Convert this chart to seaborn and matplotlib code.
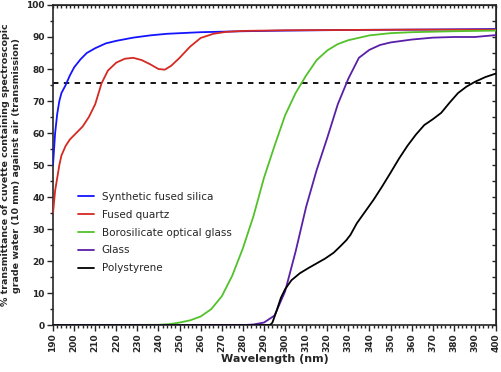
import matplotlib
matplotlib.use("Agg")
import matplotlib.pyplot as plt
import seaborn as sns
import pandas as pd
from matplotlib.ticker import MultipleLocator, NullFormatter

# transmittance curves
silica_wl = [190, 191, 192, 193, 194, 196, 198, 200, 203, 206, 210, 215, 220, 228, 236, 244, 260, 280, 300, 330, 360, 400]
silica_t = [50, 60, 66, 70, 72.5, 75, 78, 80.5, 83, 85, 86.5, 88, 88.8, 89.8, 90.5, 91, 91.5, 91.8, 92, 92.2, 92.3, 92.5]

quartz_wl = [190, 191, 192, 193, 194, 196, 198, 201, 204, 207, 210, 213, 216, 220, 224, 228, 232, 236, 240, 243, 246, 250, 255, 260, 266, 272, 280, 290, 300, 330, 360, 400]
quartz_t = [35, 42, 46, 50, 53, 56, 58, 60, 62, 65, 69, 75.5, 79.5, 82, 83.2, 83.5, 82.8, 81.5, 80, 79.8, 81, 83.5, 87, 89.7, 91, 91.6, 91.9, 92, 92.1, 92.2, 92.3, 92.3]

boro_wl = [190, 240, 245, 250, 255, 260, 265, 270, 275, 280, 285, 290, 295, 300, 305, 310, 315, 320, 325, 330, 340, 350, 360, 380, 400]
boro_t = [0, 0.1, 0.3, 0.8, 1.5, 2.7, 5, 9, 15.5, 24, 34, 46, 56, 65.5, 72.5, 78, 82.8, 85.8, 87.8, 89, 90.5, 91.2, 91.5, 91.8, 92]

glass_wl = [190, 280, 285, 290, 295, 300, 305, 310, 315, 320, 325, 330, 335, 340, 345, 350, 360, 370, 380, 390, 395, 400]
glass_t = [0, 0, 0.2, 0.8, 3, 10.5, 23, 37, 48.5, 58.5, 69, 77, 83.5, 86, 87.5, 88.3, 89.2, 89.8, 90, 90, 90.3, 90.6]

poly_wl = [190, 290, 293, 294, 296, 298, 300, 303, 307, 311, 315, 319, 323, 326, 329, 331, 334, 338, 342, 346, 350, 354, 358, 362, 366, 370, 374, 378, 382, 386, 390, 395, 400]
poly_t = [0, 0, 0.1, 0.8, 4.5, 8.5, 11.2, 14, 16.2, 17.8, 19.3, 20.8, 22.6, 24.5, 26.5, 28.2, 31.8, 35.5, 39.2, 43.3, 47.6, 52, 56, 59.5, 62.5, 64.3, 66.3, 69.5, 72.5, 74.5, 76, 77.5, 78.6]

names = ["Synthetic fused silica", "Fused quartz", "Borosilicate optical glass", "Glass", "Polystyrene"]
colors = ["#1414ff", "#d42a22", "#52c12a", "#5a1fa8", "#000000"]
threshold = 75.7

frames = []
for name, wl, t in zip(names, [silica_wl, quartz_wl, boro_wl, glass_wl, poly_wl],
                       [silica_t, quartz_t, boro_t, glass_t, poly_t]):
    frames.append(pd.DataFrame({"wl": wl, "t": t, "material": name}))
df = pd.concat(frames, ignore_index=True)

sns.set_style("ticks")
plt.rcParams["font.family"] = ["DejaVu Sans"]

fig = plt.figure(figsize=(5.02, 3.72), dpi=100)
ax = fig.add_axes([0.1056, 0.126, 0.8825, 0.8606])

ax.axhline(threshold, color="black", ls=(0, (3, 3)), lw=1.3, zorder=1)
sns.lineplot(data=df, x="wl", y="t", hue="material", hue_order=names,
             palette=dict(zip(names, colors)), linewidth=1.3, estimator=None,
             sort=True, ax=ax, zorder=3)

ax.set_xlim(190, 400)
ax.set_ylim(0, 100)
ax.xaxis.set_major_locator(MultipleLocator(10))
ax.xaxis.set_minor_locator(MultipleLocator(2))
ax.yaxis.set_major_locator(MultipleLocator(10))
ax.yaxis.set_minor_locator(MultipleLocator(5))
ax.tick_params(which="major", length=4, width=1, labelsize=6.5, pad=2)
ax.tick_params(which="minor", length=2, width=1)
for lab in ax.get_xticklabels():
    lab.set_rotation(90)
    lab.set_fontweight("bold")
for lab in ax.get_yticklabels():
    lab.set_fontweight("bold")
for s in ax.spines.values():
    s.set_linewidth(1.2)

top = ax.secondary_xaxis("top")
top.xaxis.set_major_locator(MultipleLocator(2))
top.xaxis.set_major_formatter(NullFormatter())
top.tick_params(direction="in", length=2, width=1)
right = ax.secondary_yaxis("right")
right.yaxis.set_major_locator(MultipleLocator(5))
right.yaxis.set_major_formatter(NullFormatter())
right.tick_params(direction="in", length=3, width=1)

ax.set_xlabel("Wavelength (nm)", fontsize=8, fontweight="bold", labelpad=1)
ax.set_ylabel("% transmittance of cuvette containing spectroscopic\ngrade water (10 mm) against air (transmission)",
              fontsize=6.8, fontweight="bold", labelpad=4)

ax.legend(loc="upper left", bbox_to_anchor=(0.035, 0.445), frameon=False,
          fontsize=7.5, handlelength=1.5, labelspacing=0.75, title=None)

fig.savefig("out.png", dpi=100)
